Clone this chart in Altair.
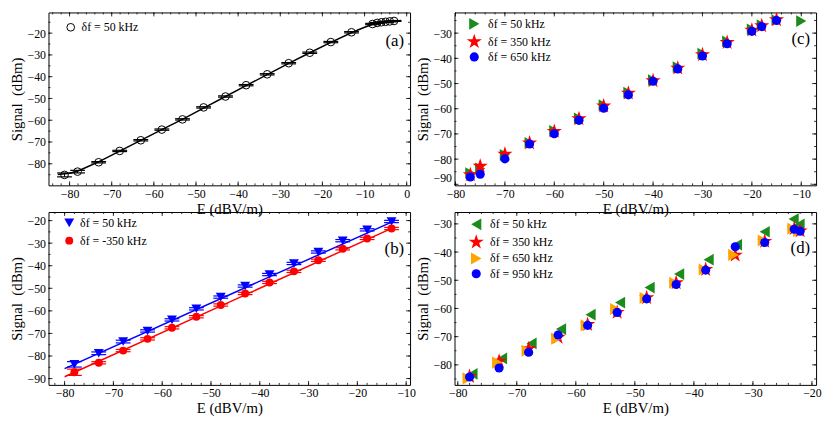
import altair as alt
import pandas as pd

FONT = "Liberation Serif"
W, H = 366, 175
MAJ, MIN = 4, 2
CAP = 15
STAR = ("M0,-1L0.225,-0.309L0.951,-0.309L0.363,0.118L0.588,0.809L0,0.382"
        "L-0.588,0.809L-0.363,0.118L-0.951,-0.309L-0.225,-0.309Z")
GREEN, RED, BLUE, ORANGE = "#1b8c1b", "#ff0000", "#0000ff", "#ffa500"
X_TITLE = "E (dBV/m)"
Y_TITLE = "Signal\u00a0 (dBm)"

# ---------------- panel (a) ----------------
A_NAME = "δf = 50 kHz"
A_X = [-81.2, -78.1, -73.1, -68.1, -63.1, -58.1, -53.2, -48.2, -43.0, -38.1, -33.1,
       -28.0, -23.0, -18.0, -13.1, -8.1, -7.0, -6.0, -5.0, -4.0, -3.0]
A_Y = [-85.1, -83.6, -79.3, -74.1, -69.2, -64.3, -59.6, -54.1, -49.1, -43.9, -38.9,
       -33.8, -29.0, -24.1, -19.6, -15.8, -15.3, -15.0, -14.8, -14.6, -14.4]
A_ERR = [0.9, 0.6, 0.3, 0.3, 0.3, 0.3, 0.3, 0.3, 0.3, 0.3, 0.3,
         0.3, 0.3, 0.3, 0.3, 0.3, 0.2, 0.2, 0.2, 0.2, 0.2]
A_FIT_X = [-82.8, -80, -78, -76, -73, -68, -63, -58, -53, -48, -43, -38, -33, -28,
           -23, -18, -13, -10, -8, -6, -4, -2, -1.4]
A_FIT_Y = [-84.9, -84.3, -83.3, -81.6, -79.0, -74.1, -69.1, -64.2, -59.4, -54.2, -49.1,
           -44.0, -38.9, -33.9, -29.0, -24.2, -19.7, -17.3, -15.9, -15.2, -14.8, -14.4, -14.2]
A_XDOM, A_YDOM = [-85, 0.8], [-89.9, -10.5]
A_XT, A_YT = [-80, -70, -60, -50, -40, -30, -20, -10, 0], [-80, -70, -60, -50, -40, -30, -20]

# ---------------- panel (b) ----------------
B_NAMES = ["δf = 50 kHz", "δf = -350 kHz"]
B_X = [-78, -73, -68, -63, -58, -53, -48, -43, -38, -33, -28, -23, -18, -13]
B_Y50 = [-83.7, -78.8, -73.6, -68.9, -64.0, -59.1, -53.9, -49.0, -43.9, -39.0, -33.9, -28.9, -24.1, -20.4]
B_Y350 = [-87.2, -83.0, -77.6, -72.4, -67.5, -62.6, -57.4, -52.3, -47.4, -42.5, -37.6, -32.5, -27.9, -23.5]
B_ERR50 = [1.2, 0.6, 0.6, 0.5, 0.5, 0.5, 0.5, 0.5, 0.5, 0.5, 0.5, 0.5, 0.5, 0.5]
B_ERR350 = [1.4, 0.5, 0.5, 0.5, 0.5, 0.5, 0.5, 0.5, 0.5, 0.5, 0.5, 0.5, 0.5, 0.5]
B_FIT_X = [-80, -12.3]
B_FIT_Y50 = [-85.6, -20.0]
B_FIT_Y350 = [-89.2, -22.8]
B_XDOM, B_YDOM = [-83.3, -9.2], [-92.8, -16.2]
B_XT, B_YT = [-80, -70, -60, -50, -40, -30, -20, -10], [-90, -80, -70, -60, -50, -40, -30, -20]

# ---------------- panel (c) ----------------
C_NAMES = ["δf = 50 kHz", "δf = 350 kHz", "δf = 650 kHz"]
C_X50 = [-77, -75, -70, -65, -60, -55, -50, -45, -40, -35, -30, -25, -20, -18, -15, -10]
C_Y50 = [-85.5, -83.7, -78.3, -73.5, -68.8, -63.8, -58.6, -53.6, -48.6, -43.5, -38.1,
         -33.3, -28.5, -26.8, -24.8, -25.2]
C_X = [-77, -75, -70, -65, -60, -55, -50, -45, -40, -35, -30, -25, -20, -18, -15]
C_Y350 = [-86.2, -82.8, -78.0, -73.6, -69.0, -64.0, -58.9, -53.8, -48.9, -43.9, -38.6,
          -33.7, -28.8, -27.1, -24.7]
C_Y650 = [-87.1, -86.0, -79.9, -74.0, -69.9, -64.6, -59.8, -54.5, -49.1, -44.2, -39.1,
          -34.2, -29.3, -27.4, -25.0]
C_XDOM, C_YDOM = [-80.2, -7.0], [-90.4, -21.8]
C_XT, C_YT = [-80, -70, -60, -50, -40, -30, -20, -10], [-90, -80, -70, -60, -50, -40, -30]

# ---------------- panel (d) ----------------
D_NAMES = ["δf = 50 kHz", "δf = 350 kHz", "δf = 650 kHz", "δf = 950 kHz"]
D_X50 = [-77.5, -72.5, -67.5, -62.5, -57.5, -52.5, -47.5, -42.5, -37.5, -32.7, -28.0, -23.1, -22.1]
D_Y50 = [-83.2, -77.7, -72.4, -67.3, -62.2, -57.9, -52.6, -47.8, -42.7, -37.4, -32.8, -28.3, -30.2]
D_X = [-78, -73, -68, -63, -58, -53, -48, -43, -38, -33, -28, -23, -22]
D_Y350 = [-84.1, -78.7, -74.3, -70.2, -65.7, -61.4, -56.2, -50.9, -46.2, -41.1, -36.2, -31.7, -32.5]
D_X650 = [-78.3, -73.3, -68.3, -63.3, -58.3, -53.3, -48.3, -43.3, -38.3, -33.3, -28.3, -23.3, -22.3]
D_Y650 = [-84.8, -79.2, -75.0, -70.7, -66.0, -60.2, -56.3, -50.9, -46.2, -41.0, -35.9, -31.7, -32.5]
D_Y950 = [-84.3, -81.1, -75.5, -69.4, -66.0, -61.4, -56.6, -51.5, -46.4, -38.1, -36.6, -31.9, -32.6]
D_XDOM, D_YDOM = [-80.55, -19.3], [-87.1, -25.8]
D_XT, D_YT = [-80, -70, -60, -50, -40, -30, -20], [-80, -70, -60, -50, -40, -30]


def minor(dom, step):
    v = int(dom[0] // step) * step
    out = []
    while v <= dom[1]:
        if dom[0] <= v <= dom[1]:
            out.append(v)
        v += step
    return out


def frame(xdom, ydom, xt, yt, yflush=1):
    xs = alt.Scale(domain=xdom, nice=False, zero=False)
    ys = alt.Scale(domain=ydom, nice=False, zero=False)
    xa = alt.Axis(values=xt, title=X_TITLE, ticks=False, domain=False, grid=False,
                  labelPadding=3, titlePadding=2)
    ya = alt.Axis(values=yt, title=Y_TITLE, ticks=False, domain=False, grid=False,
                  labelPadding=3, titlePadding=3, labelFlush=yflush)
    return xs, ys, xa, ya


def tick_layers(xs, ys, xa, ya, xdom, ydom, xt, yt):
    out = []
    for vals, L in ((minor(xdom, 2), MIN), (xt, MAJ)):
        b = alt.Chart(pd.DataFrame({"v": vals})).mark_rule(color="black", strokeWidth=0.8)
        X = alt.X("v:Q", scale=xs, axis=xa)
        out.append(b.encode(x=X, y=alt.value(H), y2=alt.value(H - L)))
        out.append(b.encode(x=X, y=alt.value(0), y2=alt.value(L)))
    for vals, L in ((minor(ydom, 5), MIN), (yt, MAJ)):
        b = alt.Chart(pd.DataFrame({"v": vals})).mark_rule(color="black", strokeWidth=0.8)
        Y = alt.Y("v:Q", scale=ys, axis=ya)
        out.append(b.encode(y=Y, x=alt.value(0), x2=alt.value(L)))
        out.append(b.encode(y=Y, x=alt.value(W), x2=alt.value(W - L)))
    return out


def label_layer(text, ypos):
    return alt.Chart(pd.DataFrame({"t": [text]})).mark_text(
        align="right", baseline="middle", font=FONT, fontSize=17, color="black"
    ).encode(text="t:N", x=alt.value(W - 6), y=alt.value(ypos))


def legend(lx, ly, rowpad):
    return alt.Legend(title=None, orient="none", legendX=lx, legendY=ly, labelFont=FONT,
                      labelFontSize=12, labelColor="black", rowPadding=rowpad,
                      labelOffset=5, padding=0, symbolStrokeWidth=1)


def points_layer(df, xs, ys, xa, ya, names, colors, shapes, sizes, leg, filled=True):
    return alt.Chart(df).mark_point(filled=filled, opacity=1, strokeWidth=1).encode(
        x=alt.X("x:Q", scale=xs, axis=xa),
        y=alt.Y("y:Q", scale=ys, axis=ya),
        color=alt.Color("s:N", scale=alt.Scale(domain=names, range=colors), legend=leg),
        shape=alt.Shape("s:N", scale=alt.Scale(domain=names, range=shapes), legend=leg),
        size=alt.Size("s:N", scale=alt.Scale(type="ordinal", domain=names, range=sizes),
                      legend=leg),
    )


def errbar_layers(xv, yv, ev, color, xs, ys, xa, ya):
    df = pd.DataFrame({"x": xv, "lo": [y - e for y, e in zip(yv, ev)],
                       "hi": [y + e for y, e in zip(yv, ev)]})
    X = alt.X("x:Q", scale=xs, axis=xa)
    base = alt.Chart(df)
    return [
        base.mark_rule(color=color, strokeWidth=1).encode(
            x=X, y=alt.Y("lo:Q", scale=ys, axis=ya), y2="hi:Q"),
        base.mark_tick(orient="horizontal", size=CAP, thickness=1.2, color=color, opacity=1).encode(
            x=X, y=alt.Y("lo:Q", scale=ys, axis=ya)),
        base.mark_tick(orient="horizontal", size=CAP, thickness=1.2, color=color, opacity=1).encode(
            x=X, y=alt.Y("hi:Q", scale=ys, axis=ya)),
    ]


def line_layer(xv, yv, color, xs, ys, xa, ya):
    return alt.Chart(pd.DataFrame({"x": xv, "y": yv})).mark_line(
        color=color, strokeWidth=1.5).encode(
        x=alt.X("x:Q", scale=xs, axis=xa), y=alt.Y("y:Q", scale=ys, axis=ya))


# ---- build (a)
xs, ys, xa, ya = frame(A_XDOM, A_YDOM, A_XT, A_YT)
dfa = pd.DataFrame({"x": A_X, "y": A_Y, "s": A_NAME})
pa = alt.layer(
    *tick_layers(xs, ys, xa, ya, A_XDOM, A_YDOM, A_XT, A_YT),
    line_layer(A_FIT_X, A_FIT_Y, "black", xs, ys, xa, ya),
    *errbar_layers(A_X, A_Y, A_ERR, "black", xs, ys, xa, ya),
    points_layer(dfa, xs, ys, xa, ya, [A_NAME], ["black"], ["circle"], [60],
                 legend(16.5, 9, 4), filled=False),
    label_layer("(a)", 29),
).properties(width=W, height=H)

# ---- build (b)
xs, ys, xa, ya = frame(B_XDOM, B_YDOM, B_XT, B_YT)
dfb = pd.concat([
    pd.DataFrame({"x": B_X, "y": B_Y50, "s": B_NAMES[0]}),
    pd.DataFrame({"x": B_X, "y": B_Y350, "s": B_NAMES[1]}),
])
pb = alt.layer(
    *tick_layers(xs, ys, xa, ya, B_XDOM, B_YDOM, B_XT, B_YT),
    line_layer(B_FIT_X, B_FIT_Y50, BLUE, xs, ys, xa, ya),
    line_layer(B_FIT_X, B_FIT_Y350, RED, xs, ys, xa, ya),
    *errbar_layers(B_X, B_Y50, B_ERR50, BLUE, xs, ys, xa, ya),
    *errbar_layers(B_X, B_Y350, B_ERR350, RED, xs, ys, xa, ya),
    points_layer(dfb, xs, ys, xa, ya, B_NAMES, [BLUE, RED], ["triangle-down", "circle"],
                 [100, 64], legend(15, 5, 6)),
    label_layer("(b)", 38),
).properties(width=W, height=H)

# ---- build (c)
xs, ys, xa, ya = frame(C_XDOM, C_YDOM, C_XT, C_YT, yflush=3)
dfc = pd.concat([
    pd.DataFrame({"x": C_X50, "y": C_Y50, "s": C_NAMES[0]}),
    pd.DataFrame({"x": C_X, "y": C_Y350, "s": C_NAMES[1]}),
    pd.DataFrame({"x": C_X, "y": C_Y650, "s": C_NAMES[2]}),
])
pc = alt.layer(
    *tick_layers(xs, ys, xa, ya, C_XDOM, C_YDOM, C_XT, C_YT),
    points_layer(dfc, xs, ys, xa, ya, C_NAMES, [GREEN, RED, BLUE],
                 ["triangle-right", STAR, "circle"], [140, 260, 85], legend(11, 5, 2.5)),
    label_layer("(c)", 27),
).properties(width=W, height=H)

# ---- build (d)
xs, ys, xa, ya = frame(D_XDOM, D_YDOM, D_XT, D_YT)
dfd = pd.concat([
    pd.DataFrame({"x": D_X50, "y": D_Y50, "s": D_NAMES[0]}),
    pd.DataFrame({"x": D_X, "y": D_Y350, "s": D_NAMES[1]}),
    pd.DataFrame({"x": D_X650, "y": D_Y650, "s": D_NAMES[2]}),
    pd.DataFrame({"x": D_X, "y": D_Y950, "s": D_NAMES[3]}),
])
pd_ = alt.layer(
    *tick_layers(xs, ys, xa, ya, D_XDOM, D_YDOM, D_XT, D_YT),
    points_layer(dfd, xs, ys, xa, ya, D_NAMES, [GREEN, RED, ORANGE, BLUE],
                 ["triangle-left", STAR, "triangle-right", "circle"], [140, 260, 150, 85],
                 legend(13, 6, 2.5)),
    label_layer("(d)", 36),
).properties(width=W, height=H)

chart = alt.concat(pa, pc, pb, pd_, columns=2).properties(
    spacing={"row": 27, "column": 45}, bounds="flush", padding=0, background="white"
).resolve_scale(
    x="independent", y="independent", color="independent",
    shape="independent", size="independent"
).resolve_legend(
    color="independent", shape="independent", size="independent"
).configure_view(
    stroke="black", strokeWidth=1
).configure_axis(
    labelFont=FONT, labelFontSize=12, labelColor="black",
    titleFont=FONT, titleFontSize=15, titleFontWeight="normal", titleColor="black",
)

chart.save("out.html", embed_options={"renderer": "svg", "actions": False})
